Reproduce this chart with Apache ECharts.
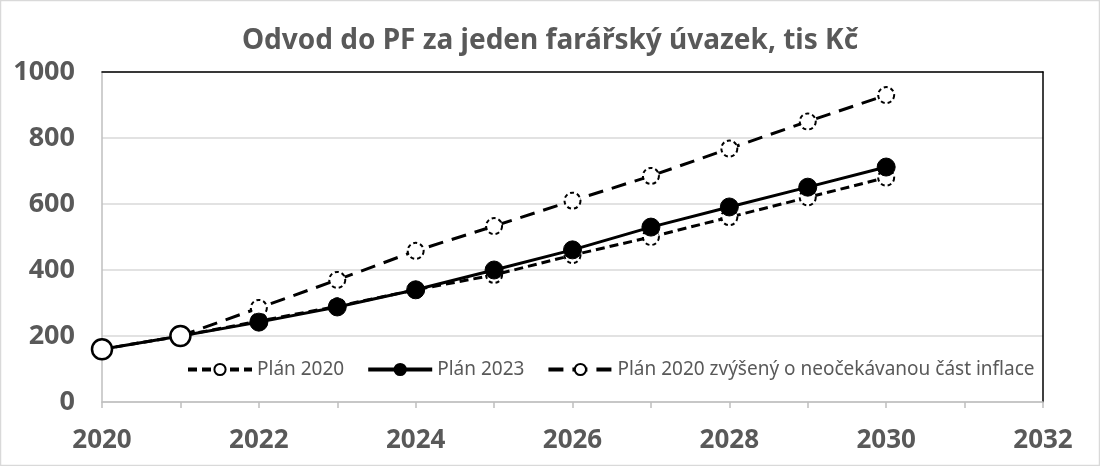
<!DOCTYPE html>
<html>
<head>
<meta charset="utf-8">
<script src="https://cdn.jsdelivr.net/npm/echarts@6/dist/echarts.min.js"></script>
<style>
html,body{margin:0;padding:0;background:#fff;}
#c{width:1100px;height:466px;}
</style>
</head>
<body>
<div id="c"></div>
<script>
const years = [2020, 2021, 2022, 2023, 2024, 2025, 2026, 2027, 2028, 2029, 2030];
const plan2020 = [160, 200, 245, 290, 340, 385, 445, 500, 560, 620, 680];
const plan2023 = [160, 200, 242, 288, 340, 400, 461, 530, 591, 651, 712];
const plan2020Zvyseny = [null, 200, 285, 370, 458, 533, 610, 685, 768, 850, 930];
const seriesNames = ['Plán 2020', 'Plán 2023', 'Plán 2020 zvýšený o neočekávanou část inflace'];
const titleText = 'Odvod do PF za jeden farářský úvazek, tis Kč';

const FONT = 'Noto Sans';
const GRAY = '#595959';

function pairs(vals) {
  return years.map((y, i) => vals[i] == null ? null : [y, vals[i]]).filter(p => p);
}

const dashedMarker = {color: '#fff', borderColor: '#000', borderWidth: 2, borderType: [4, 3]};
const legendDash = [[9, 5], null, [15, 9]];

const chart = echarts.init(document.getElementById('c'), null, {renderer: 'canvas'});
chart.setOption({
  animation: false,
  backgroundColor: '#fff',
  title: {
    text: titleText, left: 'center', top: 22,
    textStyle: {fontFamily: FONT, fontSize: 28, fontWeight: 'bold', color: GRAY}
  },
  grid: {left: 102, right: 57, top: 72, bottom: 64, containLabel: false},
  legend: {
    left: 186, top: 360, padding: 0, itemGap: 22, itemWidth: 64, itemHeight: 14,
    textStyle: {fontFamily: FONT, fontSize: 19, color: GRAY},
    data: seriesNames.map((n, i) => ({
      name: n,
      lineStyle: {width: 4, color: '#000', type: legendDash[i] || 'solid'}
    }))
  },
  xAxis: [{
    type: 'value', min: 2020, max: 2032, interval: 1,
    axisLine: {show: true, lineStyle: {color: '#bfbfbf', width: 1.5}},
    axisTick: {show: true, length: 6, lineStyle: {color: '#bfbfbf', width: 1.5}},
    splitLine: {show: false},
    axisLabel: {
      formatter: v => (v % 2 === 0 ? String(v) : ''),
      fontFamily: FONT, fontSize: 26, fontWeight: 'bold', color: GRAY, margin: 26
    }
  }, {
    type: 'value', position: 'top', min: 2020, max: 2032,
    axisLine: {show: true, onZero: false, lineStyle: {color: '#000', width: 1.5}},
    axisTick: {show: false}, axisLabel: {show: false}, splitLine: {show: false}
  }],
  yAxis: [{
    type: 'value', min: 0, max: 1000, interval: 200,
    axisLine: {show: true, lineStyle: {color: '#bfbfbf', width: 1.5}},
    axisTick: {show: false},
    splitLine: {show: true, lineStyle: {color: '#d9d9d9', width: 1.5}},
    axisLabel: {formatter: v => String(v), fontFamily: FONT, fontSize: 27, fontWeight: 'bold', color: GRAY, margin: 27}
  }, {
    type: 'value', position: 'right', min: 0, max: 1000,
    axisLine: {show: true, onZero: false, lineStyle: {color: '#000', width: 1.5}},
    axisTick: {show: false}, axisLabel: {show: false}, splitLine: {show: false}
  }],
  series: [
    {
      name: seriesNames[0], type: 'line', data: pairs(plan2020),
      symbol: 'circle', symbolSize: 16,
      lineStyle: {color: '#000', width: 3, type: [9, 5]},
      itemStyle: dashedMarker, z: 2
    },
    {
      name: seriesNames[2], type: 'line', data: pairs(plan2020Zvyseny),
      symbol: 'circle', symbolSize: 16,
      lineStyle: {color: '#000', width: 3, type: [15, 9]},
      itemStyle: dashedMarker, z: 3
    },
    {
      name: seriesNames[1], type: 'line',
      data: pairs(plan2023).map((p, i) => i < 2
        ? {value: p, symbolSize: 20, itemStyle: {color: '#fff', borderColor: '#000', borderWidth: 2.5}}
        : {value: p}),
      symbol: 'circle', symbolSize: 18,
      lineStyle: {color: '#000', width: 3},
      itemStyle: {color: '#000', borderColor: '#000', borderWidth: 1}, z: 4
    }
  ],
  graphic: [{
    type: 'rect', shape: {x: 0.5, y: 0.5, width: 1099, height: 465},
    style: {fill: null, stroke: '#d9d9d9', lineWidth: 1.5}, silent: true
  }]
});
</script>
</body>
</html>
